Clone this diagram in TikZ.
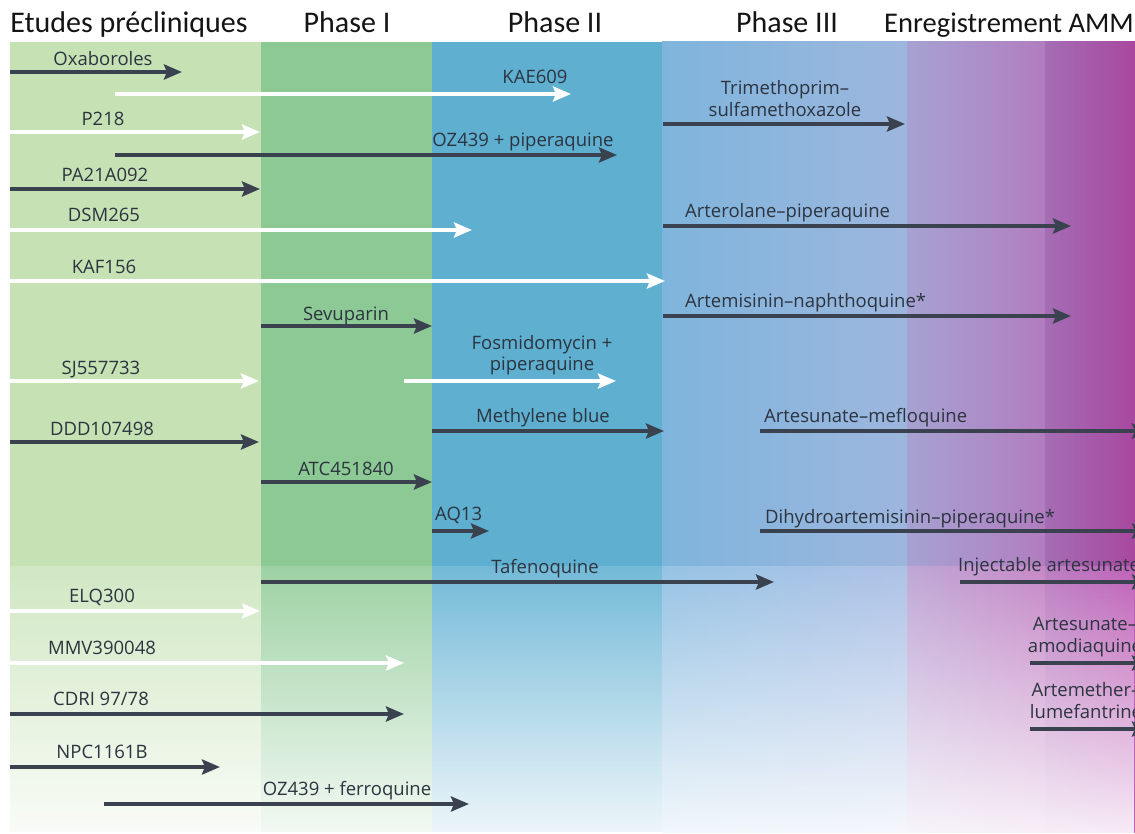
\documentclass[tikz,border=0pt]{standalone}
\usepackage{fontspec}
\setmainfont{Carlito}
\newfontfamily\lblfont{Open Sans}
\usetikzlibrary{arrows.meta,fadings}
\definecolor{arrowdark}{HTML}{3A4250}
\definecolor{txtdark}{HTML}{2C3440}
\definecolor{preC}{HTML}{C6E2B4}\definecolor{preL}{HTML}{D1E8C3}
\definecolor{phAC}{HTML}{8DC994}\definecolor{phAL}{HTML}{9ED2A4}
\definecolor{phBC}{HTML}{5FAFD0}\definecolor{phBL}{HTML}{73BAD8}
\definecolor{phCa}{HTML}{7FB5DC}\definecolor{phCb}{HTML}{8EBAE1}\definecolor{phCc}{HTML}{9DB6DE}
\definecolor{phCLa}{HTML}{96C3E4}\definecolor{phCLb}{HTML}{A4C7E9}\definecolor{phCLc}{HTML}{AEC2E6}
\definecolor{enAa}{HTML}{A6A2D2}\definecolor{enAb}{HTML}{B17DBF}
\definecolor{enALa}{HTML}{BFA8D6}\definecolor{enALb}{HTML}{C687C6}
\definecolor{enBa}{HTML}{A46DB4}\definecolor{enBb}{HTML}{A8479F}
\definecolor{enBLa}{HTML}{BB7EC2}\definecolor{enBLb}{HTML}{C060B8}
\tikzfading[name=whitefade, top color=transparent!100, bottom color=transparent!12]
\newcommand\drugline[5]{%
  \coordinate (#1s) at (#4,#3);
  \coordinate (#1e) at (#5,#3);
  \draw[#2] (#1s) -- (#1e);}
\begin{document}
\begin{tikzpicture}[x=1pt,y=-1pt,
  darr/.style={draw=arrowdark, line width=3.8pt, -{Stealth[length=18pt,width=15pt,inset=3pt]}},
  warr/.style={draw=white, line width=3.8pt, -{Stealth[length=18pt,width=15pt,inset=3pt]}},
  lbl/.style={font=\lblfont\fontsize{18.5}{22}\selectfont, text=txtdark, inner sep=0pt, anchor=base},
  lbll/.style={lbl, anchor=base west},
  hdr/.style={font=\fontsize{30}{35}\selectfont, text=black!92, inner sep=0pt, anchor=base}]
\useasboundingbox (0,0) rectangle (1135,834);
\clip (0,0) rectangle (1135,834);
\fill[white] (0,0) rectangle (1135,834);
% upper band
\fill[preC] (10,42) rectangle (261,566);
\fill[phAC] (261,42) rectangle (432,566);
\fill[phBC] (432,42) rectangle (662,566);
\fill[left color=phCa, middle color=phCb, right color=phCc] (662,42) rectangle (907,566);
\fill[left color=enAa, right color=enAb] (907,42) rectangle (1045,566);
\fill[left color=enBa, right color=enBb] (1045,42) rectangle (1136,566);
% lower band
\fill[preL] (10,566) rectangle (261,832);
\fill[phAL] (261,566) rectangle (432,832);
\fill[phBL] (432,566) rectangle (662,832);
\fill[left color=phCLa, middle color=phCLb, right color=phCLc] (662,566) rectangle (907,832);
\fill[left color=enALa, right color=enALb] (907,566) rectangle (1045,832);
\fill[left color=enBLa, right color=enBLb] (1045,566) rectangle (1136,832);
\fill[white, path fading=whitefade] (9,566) rectangle (1136,834);
% headers
\node[hdr] (h0) at (129,33) {Etudes précliniques};
\node[hdr] (h1) at (347,33) {Phase I};
\node[hdr] (h2) at (555,33) {Phase II};
\node[hdr] (h3) at (787,33) {Phase III};
\node[hdr, font=\fontsize{28.5}{34}\selectfont, anchor=base east] (h4) at (1134,33) {Enregistrement AMM};
% arrows
\drugline{oxa}{darr}{72}{10}{182}
\node[lbl] (oxal) at (103,66) {Oxaboroles};
\drugline{kae}{warr}{94}{115}{571}
\node[lbl] (kael) at (535,84) {KAE609};
\drugline{ptwo}{warr}{132}{10}{260}
\node[lbl] (ptwol) at (103,126) {P218};
\drugline{ozp}{darr}{155}{115}{617}
\node[lbl] (ozpl) at (523,147) {OZ439 + piperaquine};
\drugline{tms}{darr}{124}{663}{905}
\node[lbl] (tmsl) at (785,117) {\begin{tabular}[b]{@{}c@{}}Trimethoprim–\\sulfamethoxazole\end{tabular}};
\drugline{pa}{darr}{189}{10}{260}
\node[lbl] (pal) at (105,182) {PA21A092};
\drugline{dsm}{warr}{230}{10}{472}
\node[lbl] (dsml) at (104,222) {DSM265};
\drugline{arp}{darr}{226}{663}{1071}
\node[lbll] (arpl) at (685,218) {Arterolane–piperaquine};
\drugline{kaf}{warr}{281}{10}{665}
\node[lbl] (kafl) at (104,274) {KAF156};
\drugline{anq}{darr}{316}{663}{1071}
\node[lbll] (anql) at (685,308) {Artemisinin–naphthoquine*};
\drugline{sev}{darr}{326}{261}{432}
\node[lbl] (sevl) at (346,320) {Sevuparin};
\drugline{sj}{warr}{381}{10}{259}
\node[lbl] (sjl) at (101,374) {SJ557733};
\drugline{fos}{warr}{381}{404}{616}
\node[lbl] (fosl) at (542,370) {\begin{tabular}[b]{@{}c@{}}Fosmidomycin +\\[-1.5pt]piperaquine\end{tabular}};
\drugline{mb}{darr}{431}{432}{664}
\node[lbl] (mbl) at (543,422) {Methylene blue};
\drugline{asm}{darr}{431}{760}{1150}
\node[lbll] (asml) at (764,422) {Artesunate–mefloquine};
\drugline{ddd}{darr}{442}{10}{259}
\node[lbl] (dddl) at (102,435) {DDD107498};
\drugline{atc}{darr}{482}{261}{432}
\node[lbl] (atcl) at (346,475) {ATC451840};
\drugline{aq}{darr}{531}{432}{489}
\node[lbll] (aql) at (435,520) {AQ13};
\drugline{dhp}{darr}{531}{760}{1150}
\node[lbll] (dhpl) at (765,523) {Dihydroartemisinin–piperaquine*};
\drugline{taf}{darr}{582}{261}{774}
\node[lbl] (tafl) at (545,573) {Tafenoquine};
\drugline{inj}{darr}{582}{960}{1150}
\node[lbll] (injl) at (958,571) {Injectable artesunate};
\drugline{elq}{warr}{611}{10}{260}
\node[lbl] (elql) at (102,602) {ELQ300};
\drugline{mmv}{warr}{663}{10}{404}
\node[lbl] (mmvl) at (102,654) {MMV390048};
\drugline{asaq}{darr}{663}{1030}{1150}
\node[lbl] (asaql) at (1085,652) {\begin{tabular}[b]{@{}c@{}}Artesunate–\\amodiaquine\end{tabular}};
\drugline{cdri}{darr}{714}{10}{404}
\node[lbl] (cdril) at (101,705) {CDRI 97/78};
\drugline{artl}{darr}{729}{1030}{1150}
\node[lbl] (artll) at (1086,718) {\begin{tabular}[b]{@{}c@{}}Artemether–\\lumefantrine\end{tabular}};
\drugline{npc}{darr}{767}{10}{220}
\node[lbl] (npcl) at (102,758) {NPC1161B};
\drugline{ozf}{darr}{804}{104}{469}
\node[lbl] (ozfl) at (347,795) {OZ439 + ferroquine};
\end{tikzpicture}
\end{document}
